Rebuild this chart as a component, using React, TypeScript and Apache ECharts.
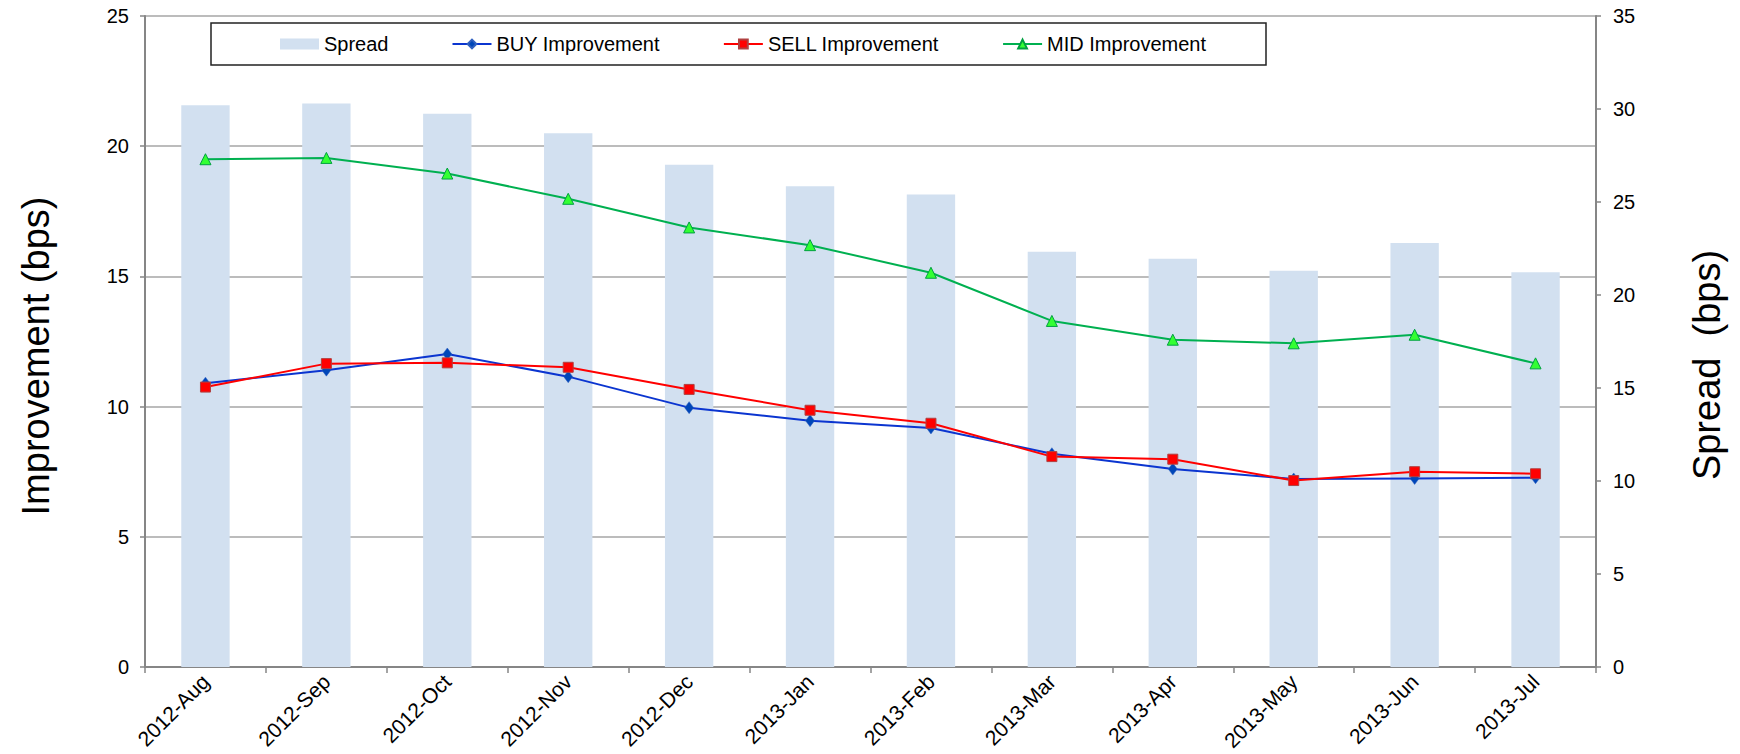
import React, { useEffect, useRef } from "react";
import * as echarts from "echarts";

const categories = [
  "2012-Aug", "2012-Sep", "2012-Oct", "2012-Nov", "2012-Dec", "2013-Jan",
  "2013-Feb", "2013-Mar", "2013-Apr", "2013-May", "2013-Jun", "2013-Jul",
];
const spread = [30.2, 30.3, 29.75, 28.7, 27.0, 25.85, 25.4, 22.33, 21.95, 21.3, 22.8, 21.22];
const buy = [10.9, 11.4, 12.02, 11.15, 9.96, 9.46, 9.18, 8.19, 7.6, 7.22, 7.24, 7.27];
const sell = [10.75, 11.65, 11.68, 11.51, 10.66, 9.86, 9.36, 8.08, 7.98, 7.16, 7.5, 7.42];
const mid = [19.5, 19.55, 18.95, 17.98, 16.88, 16.2, 15.14, 13.29, 12.57, 12.43, 12.76, 11.66];

const leftTicks = { min: 0, max: 25, interval: 5 };
const rightTicks = { min: 0, max: 35, interval: 5 };

const FONT = "'Liberation Sans', Arial, Helvetica, sans-serif";

export default function App() {
  const ref = useRef<HTMLDivElement>(null);

  useEffect(() => {
    if (!ref.current) return;
    const chart = echarts.init(ref.current, null, { renderer: "svg" });
    const axisColor = "#868686";
    const gridColor = "#A6A6A6";
    chart.setOption({
      animation: false,
      backgroundColor: "#ffffff",
      textStyle: { fontFamily: FONT },
      grid: { left: 145, right: 144, top: 16, bottom: 87, containLabel: false },
      legend: {
        left: 280,
        top: 34,
        itemWidth: 39,
        itemHeight: 11,
        itemGap: 63,
        padding: 0,
        textStyle: { fontSize: 20, color: "#000", fontFamily: FONT },
        data: [
          { name: "Spread", icon: "rect" },
          "BUY Improvement",
          "SELL Improvement",
          "MID Improvement",
        ],
      },
      graphic: [
        {
          type: "rect",
          shape: { x: 211, y: 23, width: 1055, height: 42 },
          style: { fill: "none", stroke: "#222", lineWidth: 1.5 },
          z: 10,
        },
        {
          type: "text",
          x: 36,
          y: 356,
          rotation: Math.PI / 2,
          style: {
            text: "Improvement (bps)",
            fontSize: 38,
            fontFamily: FONT,
            fill: "#000",
            textAlign: "center",
            textVerticalAlign: "middle",
          },
        },
        {
          type: "text",
          x: 1707,
          y: 365,
          rotation: Math.PI / 2,
          style: {
            text: "Spread  (bps)",
            fontSize: 38,
            fontFamily: FONT,
            fill: "#000",
            textAlign: "center",
            textVerticalAlign: "middle",
          },
        },
      ],
      xAxis: {
        type: "category",
        data: categories,
        boundaryGap: true,
        axisLine: { lineStyle: { color: axisColor, width: 2 } },
        axisTick: { show: true, length: 6, lineStyle: { color: axisColor, width: 1.5 } },
        axisLabel: {
          rotate: 45,
          fontSize: 21,
          color: "#000",
          fontFamily: FONT,
          margin: 11,
        },
        splitLine: { show: false },
      },
      yAxis: [
        {
          type: "value",
          position: "left",
          min: leftTicks.min,
          max: leftTicks.max,
          interval: leftTicks.interval,
          axisLine: { show: true, lineStyle: { color: axisColor, width: 2 } },
          axisTick: { show: true, length: 5, lineStyle: { color: axisColor, width: 1.5 } },
          axisLabel: { fontSize: 20, color: "#000", fontFamily: FONT, margin: 16 },
          splitLine: { show: true, lineStyle: { color: gridColor, width: 1.5 } },
        },
        {
          type: "value",
          position: "right",
          min: rightTicks.min,
          max: rightTicks.max,
          interval: rightTicks.interval,
          axisLine: { show: true, lineStyle: { color: axisColor, width: 2 } },
          axisTick: { show: true, length: 5, lineStyle: { color: axisColor, width: 1.5 } },
          axisLabel: { fontSize: 20, color: "#000", fontFamily: FONT, margin: 17 },
          splitLine: { show: false },
        },
      ],
      series: [
        {
          name: "Spread",
          type: "bar",
          yAxisIndex: 1,
          data: spread,
          barWidth: "40%",
          itemStyle: { color: "#D2E0F0" },
          z: 1,
        },
        {
          name: "BUY Improvement",
          type: "line",
          yAxisIndex: 0,
          data: buy,
          symbol: "diamond",
          symbolSize: [9, 12],
          lineStyle: { color: "#0B35D0", width: 2 },
          itemStyle: { color: "#0046B8", borderColor: "#3060C0", borderWidth: 0.5 },
          z: 3,
        },
        {
          name: "SELL Improvement",
          type: "line",
          yAxisIndex: 0,
          data: sell,
          symbol: "rect",
          symbolSize: 10,
          lineStyle: { color: "#FF0000", width: 2 },
          itemStyle: { color: "#FF0000", borderColor: "#B04040", borderWidth: 1 },
          z: 4,
        },
        {
          name: "MID Improvement",
          type: "line",
          yAxisIndex: 0,
          data: mid,
          symbol: "triangle",
          symbolSize: 11,
          lineStyle: { color: "#00B050", width: 2 },
          itemStyle: { color: "#33FF33", borderColor: "#00A040", borderWidth: 1 },
          z: 5,
        },
      ],
    });
    return () => chart.dispose();
  }, []);

  return (
    <div
      ref={ref}
      style={{ position: "fixed", left: 0, top: 0, width: 1740, height: 754 }}
    />
  );
}
